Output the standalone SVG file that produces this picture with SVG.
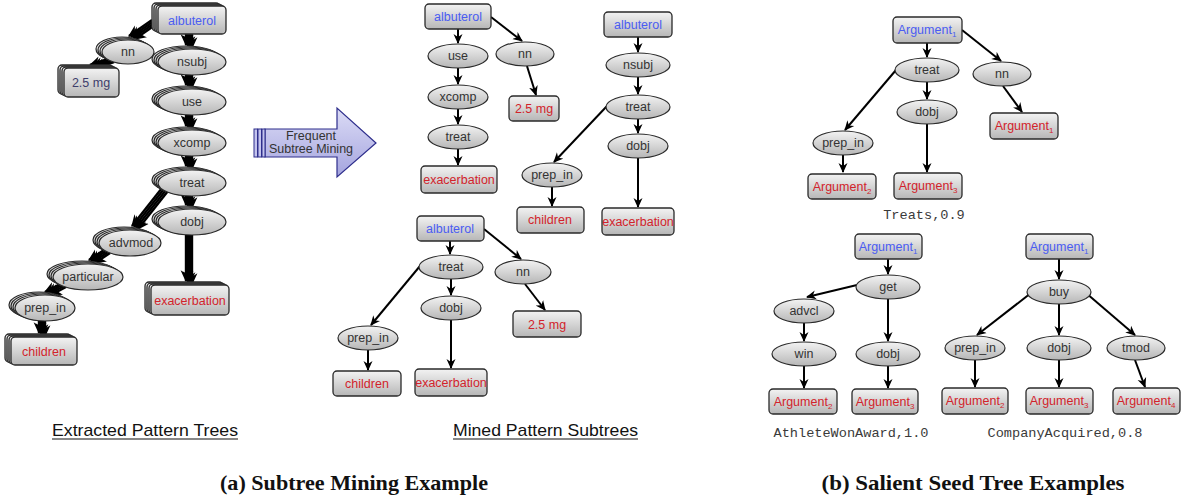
<svg xmlns="http://www.w3.org/2000/svg" xmlns:xlink="http://www.w3.org/1999/xlink" width="1184" height="496" viewBox="0 0 1184 496">
<style>
.t{font-family:"Liberation Sans",Arial,sans-serif;font-size:12.5px;text-anchor:middle;fill:#333}
.b{fill:#4a5cf2}.r{fill:#d2232b}.s{fill:#3d3d6b}
.bx{fill:url(#gr);stroke:#2a2a2a;stroke-width:1.3}
.el{fill:url(#gr);stroke:#2a2a2a;stroke-width:1.2}
.e{fill:none;stroke:#000;stroke-width:2;marker-end:url(#ah)}
.k{fill:none;stroke:#000;stroke-width:2.4;marker-end:url(#ahk)}
.m{font-family:"Liberation Mono","Courier New",monospace;font-size:13.6px;fill:#3a3a3a;text-anchor:middle}
.u{font-family:"Liberation Sans",Arial,sans-serif;font-size:17px;fill:#111}
.cap{font-family:"Liberation Serif","Times New Roman",serif;font-size:21px;font-weight:bold;fill:#111;text-anchor:middle}
.sub{font-size:8px}
</style>
<defs>
<linearGradient id="gr" x1="0" y1="0" x2="0" y2="1"><stop offset="0" stop-color="#f3f3f3"/><stop offset="1" stop-color="#b6b6b6"/></linearGradient>
<linearGradient id="ag" x1="0" y1="0" x2="0" y2="1"><stop offset="0" stop-color="#dcdcf6"/><stop offset="1" stop-color="#a4a4de"/></linearGradient>
<marker id="ah" viewBox="0 0 10 10" refX="9" refY="5" markerUnits="userSpaceOnUse" markerWidth="10" markerHeight="10" orient="auto"><path d="M0,0.5 L10,5 L0,9.5 L3,5 z" fill="#000"/></marker>
<marker id="ahk" viewBox="0 0 10 10" refX="9" refY="5" markerUnits="userSpaceOnUse" markerWidth="12" markerHeight="12" orient="auto"><path d="M0,0.5 L10,5 L0,9.5 L3,5 z" fill="#000"/></marker>
</defs>
<rect width="1184" height="496" fill="#fff"/>

<!-- ===== Left: Extracted pattern trees (stacked) ===== -->
<g id="left-connectors">
 <g id="lk">
  <path class="k" d="M158,23 L135,39"/>
  <path class="k" d="M192,34 L192,48"/>
  <path class="k" d="M114,62 L96,68"/>
  <path class="k" d="M192,75 L192,88"/>
  <path class="k" d="M192,115 L192,129"/>
  <path class="k" d="M192,156 L192,169"/>
  <path class="k" d="M192,196 L192,208"/>
  <path class="k" d="M168,191 L138,229"/>
  <path class="k" d="M110,253 L95,263"/>
  <path class="k" d="M66,287 L51,295"/>
  <path class="k" d="M45,321 L45,336"/>
  <path class="k" d="M192,235 L192,284"/>
 </g>
 <use xlink:href="#lk" transform="translate(-2,-1)"/>
 <use xlink:href="#lk" transform="translate(-4,-2)"/>
 <use xlink:href="#lk" transform="translate(-6,-3)"/>
</g>

<g id="l-albuterol">
 <rect class="bx" x="152" y="3" width="68" height="28" rx="4"/>
 <rect class="bx" x="154" y="4" width="68" height="28" rx="4"/>
 <rect class="bx" x="156" y="5" width="68" height="28" rx="4"/>
 <rect class="bx" x="158" y="6" width="68" height="28" rx="4"/>
 <text class="t b" x="192" y="25" font-size="13">albuterol</text>
</g>
<g id="l-nn">
 <ellipse class="el" cx="122" cy="49" rx="26" ry="12"/>
 <ellipse class="el" cx="124" cy="50" rx="26" ry="12"/>
 <ellipse class="el" cx="126" cy="51" rx="26" ry="12"/>
 <ellipse class="el" cx="128" cy="52" rx="26" ry="12"/>
 <text class="t" x="128" y="56" font-size="13">nn</text>
</g>
<g id="l-25mg">
 <rect class="bx" x="58" y="65" width="55" height="29" rx="4"/>
 <rect class="bx" x="60" y="66" width="55" height="29" rx="4"/>
 <rect class="bx" x="62" y="67" width="55" height="29" rx="4"/>
 <rect class="bx" x="64" y="68" width="55" height="29" rx="4"/>
 <text class="t s" x="91" y="87" font-size="13">2.5 mg</text>
</g>
<g id="l-nsubj">
 <ellipse class="el" cx="186" cy="59" rx="34" ry="13"/>
 <ellipse class="el" cx="188" cy="60" rx="34" ry="13"/>
 <ellipse class="el" cx="190" cy="61" rx="34" ry="13"/>
 <ellipse class="el" cx="192" cy="62" rx="34" ry="13"/>
 <text class="t" x="192" y="66" font-size="13">nsubj</text>
</g>
<g id="l-use">
 <ellipse class="el" cx="186" cy="99" rx="34" ry="13"/>
 <ellipse class="el" cx="188" cy="100" rx="34" ry="13"/>
 <ellipse class="el" cx="190" cy="101" rx="34" ry="13"/>
 <ellipse class="el" cx="192" cy="102" rx="34" ry="13"/>
 <text class="t" x="192" y="106" font-size="13">use</text>
</g>
<g id="l-xcomp">
 <ellipse class="el" cx="186" cy="140" rx="34" ry="13"/>
 <ellipse class="el" cx="188" cy="141" rx="34" ry="13"/>
 <ellipse class="el" cx="190" cy="142" rx="34" ry="13"/>
 <ellipse class="el" cx="192" cy="143" rx="34" ry="13"/>
 <text class="t" x="192" y="147" font-size="13">xcomp</text>
</g>
<g id="l-treat">
 <ellipse class="el" cx="186" cy="180" rx="34" ry="13"/>
 <ellipse class="el" cx="188" cy="181" rx="34" ry="13"/>
 <ellipse class="el" cx="190" cy="182" rx="34" ry="13"/>
 <ellipse class="el" cx="192" cy="183" rx="34" ry="13"/>
 <text class="t" x="192" y="187" font-size="13">treat</text>
</g>
<g id="l-dobj">
 <ellipse class="el" cx="186" cy="219" rx="34" ry="13"/>
 <ellipse class="el" cx="188" cy="220" rx="34" ry="13"/>
 <ellipse class="el" cx="190" cy="221" rx="34" ry="13"/>
 <ellipse class="el" cx="192" cy="222" rx="34" ry="13"/>
 <text class="t" x="192" y="226" font-size="13">dobj</text>
</g>
<g id="l-advmod">
 <ellipse class="el" cx="124" cy="240" rx="31" ry="13"/>
 <ellipse class="el" cx="126" cy="241" rx="31" ry="13"/>
 <ellipse class="el" cx="128" cy="242" rx="31" ry="13"/>
 <ellipse class="el" cx="130" cy="243" rx="31" ry="13"/>
 <text class="t" x="131" y="247" font-size="13">advmod</text>
</g>
<g id="l-particular">
 <ellipse class="el" cx="82" cy="274" rx="35" ry="13"/>
 <ellipse class="el" cx="84" cy="275" rx="35" ry="13"/>
 <ellipse class="el" cx="86" cy="276" rx="35" ry="13"/>
 <ellipse class="el" cx="88" cy="277" rx="35" ry="13"/>
 <text class="t" x="88" y="281" font-size="13">particular</text>
</g>
<g id="l-prep_in">
 <ellipse class="el" cx="39" cy="305" rx="30" ry="13"/>
 <ellipse class="el" cx="41" cy="306" rx="30" ry="13"/>
 <ellipse class="el" cx="43" cy="307" rx="30" ry="13"/>
 <ellipse class="el" cx="45" cy="308" rx="30" ry="13"/>
 <text class="t" x="45" y="312" font-size="13">prep_in</text>
</g>
<g id="l-children">
 <rect class="bx" x="5" y="334" width="66" height="28" rx="4"/>
 <rect class="bx" x="7" y="335" width="66" height="28" rx="4"/>
 <rect class="bx" x="9" y="336" width="66" height="28" rx="4"/>
 <rect class="bx" x="11" y="337" width="66" height="28" rx="4"/>
 <text class="t r" x="44" y="356" font-size="13">children</text>
</g>
<g id="l-exacerbation">
 <rect class="bx" x="145" y="282" width="78" height="30" rx="4"/>
 <rect class="bx" x="147" y="283" width="78" height="30" rx="4"/>
 <rect class="bx" x="149" y="284" width="78" height="30" rx="4"/>
 <rect class="bx" x="151" y="285" width="78" height="30" rx="4"/>
 <text class="t r" x="190" y="305" font-size="13">exacerbation</text>
</g>

<!-- ===== Big arrow ===== -->
<g id="mining-arrow">
 <polygon points="265,129 337,129 337,108 376,143 337,177 337,157 265,157" fill="url(#ag)" stroke="#2e2e8c" stroke-width="1.2"/>
 <rect x="254" y="129" width="3.5" height="28" fill="#c4c4ee" stroke="#2e2e8c" stroke-width="1"/>
 <rect x="258" y="129" width="3.5" height="28" fill="#c4c4ee" stroke="#2e2e8c" stroke-width="1"/>
 <rect x="262" y="129" width="3" height="28" fill="#c4c4ee" stroke="#2e2e8c" stroke-width="1"/>
 <text class="t" x="311" y="140" font-size="13">Frequent</text>
 <text class="t" x="311" y="153" font-size="13">Subtree Mining</text>
</g>

<!-- ===== Middle: Mined pattern subtrees ===== -->
<g id="connectors">
 <!-- tree 1 -->
 <path class="e" d="M458,29 L458,43"/>
 <path class="e" d="M458,68 L458,84"/>
 <path class="e" d="M458,109 L458,124"/>
 <path class="e" d="M458,149 L458,165"/>
 <path class="e" d="M491,17 L522,41"/>
 <path class="e" d="M527,66 L536,95"/>
 <!-- tree 2 -->
 <path class="e" d="M638,37 L638,52"/>
 <path class="e" d="M638,77 L638,94"/>
 <path class="e" d="M638,119 L638,133"/>
 <path class="e" d="M607,106 L554,162"/>
 <path class="e" d="M552,187 L552,206"/>
 <path class="e" d="M638,158 L638,207"/>
 <!-- tree 3 -->
 <path class="e" d="M450,241 L450,254"/>
 <path class="e" d="M484,229 L521,259"/>
 <path class="e" d="M525,284 L545,310"/>
 <path class="e" d="M420,266 L371,325"/>
 <path class="e" d="M368,350 L368,370"/>
 <path class="e" d="M451,279 L451,295"/>
 <path class="e" d="M451,320 L451,368"/>
 <!-- Treats -->
 <path class="e" d="M927,43 L927,57"/>
 <path class="e" d="M962,30 L1001,61"/>
 <path class="e" d="M896,70 L845,130"/>
 <path class="e" d="M927,82 L927,99"/>
 <path class="e" d="M843,155 L843,172"/>
 <path class="e" d="M927,124 L927,172"/>
 <path class="e" d="M1003,86 L1022,112"/>
 <!-- AthleteWonAward -->
 <path class="e" d="M888,259 L888,274"/>
 <path class="e" d="M857,285 L807,297"/>
 <path class="e" d="M804,323 L804,341"/>
 <path class="e" d="M888,299 L888,341"/>
 <path class="e" d="M804,366 L804,388"/>
 <path class="e" d="M888,366 L888,388"/>
 <!-- CompanyAcquired -->
 <path class="e" d="M1059,259 L1059,279"/>
 <path class="e" d="M1031,293 L977,335"/>
 <path class="e" d="M1059,304 L1059,335"/>
 <path class="e" d="M1086,293 L1135,335"/>
 <path class="e" d="M975,360 L975,387"/>
 <path class="e" d="M1059,360 L1059,387"/>
 <path class="e" d="M1135,360 L1145,387"/>
</g>

<g id="m1-albuterol"><rect class="bx" x="425" y="4" width="66" height="25" rx="4"/><text class="t b" x="458" y="21">albuterol</text></g>
<g id="m1-use"><ellipse class="el" cx="458" cy="56" rx="30" ry="12"/><text class="t" x="458" y="60">use</text></g>
<g id="m1-xcomp"><ellipse class="el" cx="458" cy="97" rx="30" ry="12"/><text class="t" x="458" y="101">xcomp</text></g>
<g id="m1-treat"><ellipse class="el" cx="458" cy="137" rx="30" ry="12"/><text class="t" x="458" y="141">treat</text></g>
<g id="m1-exacerbation"><rect class="bx" x="421" y="166" width="76" height="27" rx="4"/><text class="t r" x="459" y="184">exacerbation</text></g>
<g id="m1-nn"><ellipse class="el" cx="525" cy="54" rx="29" ry="12"/><text class="t" x="525" y="58">nn</text></g>
<g id="m1-25mg"><rect class="bx" x="509" y="96" width="50" height="25" rx="4"/><text class="t r" x="534" y="113">2.5 mg</text></g>

<g id="m2-albuterol"><rect class="bx" x="604" y="12" width="68" height="25" rx="4"/><text class="t b" x="638" y="29">albuterol</text></g>
<g id="m2-nsubj"><ellipse class="el" cx="638" cy="65" rx="32" ry="12"/><text class="t" x="638" y="69">nsubj</text></g>
<g id="m2-treat"><ellipse class="el" cx="638" cy="107" rx="32" ry="12"/><text class="t" x="638" y="111">treat</text></g>
<g id="m2-dobj"><ellipse class="el" cx="638" cy="146" rx="30" ry="12"/><text class="t" x="638" y="150">dobj</text></g>
<g id="m2-prep_in"><ellipse class="el" cx="552" cy="175" rx="30" ry="12"/><text class="t" x="552" y="179">prep_in</text></g>
<g id="m2-children"><rect class="bx" x="517" y="207" width="67" height="26" rx="4"/><text class="t r" x="550" y="224">children</text></g>
<g id="m2-exacerbation"><rect class="bx" x="602" y="208" width="72" height="27" rx="4"/><text class="t r" x="638" y="226">exacerbation</text></g>

<g id="m3-albuterol"><rect class="bx" x="417" y="216" width="67" height="25" rx="4"/><text class="t b" x="450" y="233">albuterol</text></g>
<g id="m3-treat"><ellipse class="el" cx="451" cy="267" rx="32" ry="12"/><text class="t" x="451" y="271">treat</text></g>
<g id="m3-nn"><ellipse class="el" cx="523" cy="272" rx="28" ry="12"/><text class="t" x="523" y="276">nn</text></g>
<g id="m3-dobj"><ellipse class="el" cx="451" cy="308" rx="30" ry="12"/><text class="t" x="451" y="312">dobj</text></g>
<g id="m3-prep_in"><ellipse class="el" cx="368" cy="338" rx="30" ry="12"/><text class="t" x="368" y="342">prep_in</text></g>
<g id="m3-children"><rect class="bx" x="333" y="371" width="68" height="25" rx="4"/><text class="t r" x="367" y="388">children</text></g>
<g id="m3-exacerbation"><rect class="bx" x="415" y="369" width="72" height="27" rx="4"/><text class="t r" x="451" y="387">exacerbation</text></g>
<g id="m3-25mg"><rect class="bx" x="513" y="311" width="68" height="26" rx="4"/><text class="t r" x="547" y="329">2.5 mg</text></g>

<text class="u" x="52" y="436" textLength="186" lengthAdjust="spacingAndGlyphs">Extracted Pattern Trees</text>
<line x1="52" y1="439" x2="238" y2="439" stroke="#111" stroke-width="1.2"/>
<text class="u" x="453" y="436" textLength="185" lengthAdjust="spacingAndGlyphs">Mined Pattern Subtrees</text>
<line x1="453" y1="439" x2="638" y2="439" stroke="#111" stroke-width="1.2"/>
<text class="cap" x="354" y="490" textLength="268" lengthAdjust="spacingAndGlyphs">(a) Subtree Mining Example</text>

<!-- ===== Right: Salient seed trees ===== -->
<g id="r1-arg1"><rect class="bx" x="893" y="17" width="69" height="26" rx="4"/><text class="t b" x="927" y="34">Argument<tspan class="sub" dy="3">1</tspan></text></g>
<g id="r1-treat"><ellipse class="el" cx="927" cy="70" rx="32" ry="12"/><text class="t" x="927" y="74">treat</text></g>
<g id="r1-nn"><ellipse class="el" cx="1002" cy="74" rx="29" ry="12"/><text class="t" x="1002" y="78">nn</text></g>
<g id="r1-dobj"><ellipse class="el" cx="927" cy="112" rx="30" ry="12"/><text class="t" x="927" y="116">dobj</text></g>
<g id="r1-prep_in"><ellipse class="el" cx="843" cy="143" rx="30" ry="12"/><text class="t" x="843" y="147">prep_in</text></g>
<g id="r1-arg2"><rect class="bx" x="808" y="174" width="68" height="25" rx="4"/><text class="t r" x="842" y="191">Argument<tspan class="sub" dy="3">2</tspan></text></g>
<g id="r1-arg3"><rect class="bx" x="894" y="173" width="68" height="26" rx="4"/><text class="t r" x="928" y="190">Argument<tspan class="sub" dy="3">3</tspan></text></g>
<g id="r1-arg1b"><rect class="bx" x="990" y="113" width="68" height="26" rx="4"/><text class="t r" x="1024" y="130">Argument<tspan class="sub" dy="3">1</tspan></text></g>
<text class="m" x="924" y="219">Treats,0.9</text>

<g id="r2-arg1"><rect class="bx" x="855" y="234" width="67" height="25" rx="4"/><text class="t b" x="888" y="251">Argument<tspan class="sub" dy="3">1</tspan></text></g>
<g id="r2-get"><ellipse class="el" cx="888" cy="287" rx="32" ry="12"/><text class="t" x="888" y="291">get</text></g>
<g id="r2-advcl"><ellipse class="el" cx="804" cy="311" rx="30" ry="12"/><text class="t" x="804" y="315">advcl</text></g>
<g id="r2-win"><ellipse class="el" cx="804" cy="354" rx="32" ry="12"/><text class="t" x="804" y="358">win</text></g>
<g id="r2-dobj"><ellipse class="el" cx="888" cy="354" rx="32" ry="12"/><text class="t" x="888" y="358">dobj</text></g>
<g id="r2-arg2"><rect class="bx" x="769" y="389" width="68" height="25" rx="4"/><text class="t r" x="803" y="406">Argument<tspan class="sub" dy="3">2</tspan></text></g>
<g id="r2-arg3"><rect class="bx" x="852" y="389" width="66" height="25" rx="4"/><text class="t r" x="885" y="406">Argument<tspan class="sub" dy="3">3</tspan></text></g>
<text class="m" x="851" y="437">AthleteWonAward,1.0</text>

<g id="r3-arg1"><rect class="bx" x="1026" y="234" width="67" height="25" rx="4"/><text class="t b" x="1059" y="251">Argument<tspan class="sub" dy="3">1</tspan></text></g>
<g id="r3-buy"><ellipse class="el" cx="1059" cy="292" rx="32" ry="12"/><text class="t" x="1059" y="296">buy</text></g>
<g id="r3-prep_in"><ellipse class="el" cx="975" cy="348" rx="30" ry="12"/><text class="t" x="975" y="352">prep_in</text></g>
<g id="r3-dobj"><ellipse class="el" cx="1059" cy="348" rx="32" ry="12"/><text class="t" x="1059" y="352">dobj</text></g>
<g id="r3-tmod"><ellipse class="el" cx="1136" cy="348" rx="29" ry="12"/><text class="t" x="1136" y="352">tmod</text></g>
<g id="r3-arg2"><rect class="bx" x="942" y="388" width="66" height="26" rx="4"/><text class="t r" x="975" y="405">Argument<tspan class="sub" dy="3">2</tspan></text></g>
<g id="r3-arg3"><rect class="bx" x="1026" y="388" width="67" height="26" rx="4"/><text class="t r" x="1059" y="405">Argument<tspan class="sub" dy="3">3</tspan></text></g>
<g id="r3-arg4"><rect class="bx" x="1113" y="388" width="67" height="26" rx="4"/><text class="t r" x="1146" y="405">Argument<tspan class="sub" dy="3">4</tspan></text></g>
<text class="m" x="1065" y="437">CompanyAcquired,0.8</text>

<text class="cap" x="973" y="490" textLength="303" lengthAdjust="spacingAndGlyphs">(b) Salient Seed Tree Examples</text>
</svg>
